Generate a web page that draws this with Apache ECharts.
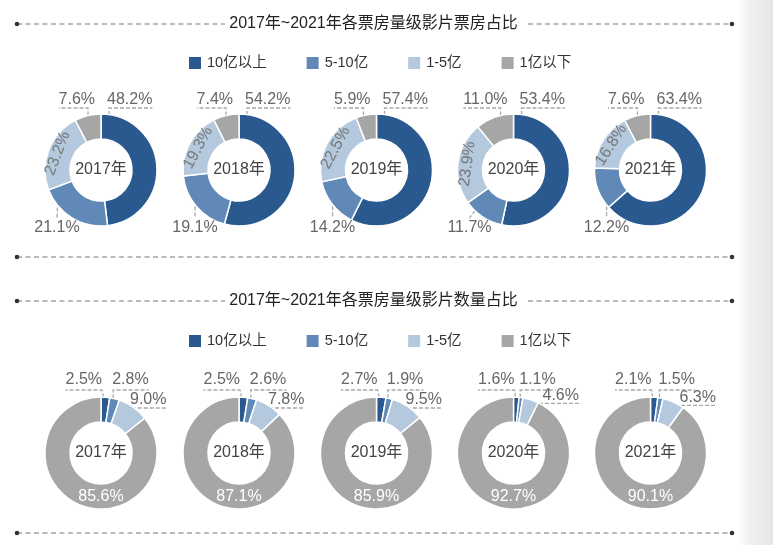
<!DOCTYPE html>
<html><head><meta charset="utf-8">
<script src="https://cdn.jsdelivr.net/npm/echarts@6/dist/echarts.min.js"></script>
<style>html,body{margin:0;padding:0;background:#fff}#c{width:773px;height:545px}</style>
</head><body><div id="c"></div>
<script>
// ---- data ----
const years = ['2017年', '2018年', '2019年', '2020年', '2021年'];
const categories = ['10亿以上', '5-10亿', '1-5亿', '1亿以下'];
const titles = ['2017年~2021年各票房量级影片票房占比', '2017年~2021年各票房量级影片数量占比'];
// 票房占比 (%)
const boxOver10 = [48.2, 54.2, 57.4, 53.4, 63.4];
const box5to10 = [21.1, 19.1, 14.2, 11.7, 12.2];
const box1to5 = [23.2, 19.3, 22.5, 23.9, 16.8];
const boxUnder1 = [7.6, 7.4, 5.9, 11.0, 7.6];
// 数量占比 (%)
const cntOver10 = [2.5, 2.5, 2.7, 1.6, 2.1];
const cnt5to10 = [2.8, 2.6, 1.9, 1.1, 1.5];
const cnt1to5 = [9.0, 7.8, 9.5, 4.6, 6.3];
const cntUnder1 = [85.6, 87.1, 85.9, 92.7, 90.1];

// ---- layout / style ----
const COLORS = ['#2a5990', '#6089b8', '#b5c9de', '#a6a6a6'];
const FONT = "'Liberation Sans', 'Noto Sans CJK SC', sans-serif";
const CX = [101, 239, 376.5, 513.5, 650.5];
const CY = [170, 453];
const TITLE_Y = [24, 301];
const R0 = 31, R1 = 56;
const D = Math.PI / 180;

const rows = [
  [boxOver10, box5to10, box1to5, boxUnder1],
  [cntOver10, cnt5to10, cnt1to5, cntUnder1]
];

function slice(vals, i) {
  const sum = vals.reduce((a, b) => a + b, 0);
  let acc = 0;
  for (let k = 0; k < i; k++) acc += vals[k];
  return [acc / sum * Math.PI * 2, (acc + vals[i]) / sum * Math.PI * 2];
}
function polar(cx, cy, r, a) { return [cx + r * Math.sin(a), cy - r * Math.cos(a)]; }

function makeLayout(row, y, vals) {
  const cx = CX[y], cy = CY[row];
  return function (p) {
    const rc = p.labelRect, w = rc.width, h = rc.height;
    const place = (left, midY) => ({ dx: left - rc.x, dy: midY - h / 2 - rc.y });
    const i = p.dataIndex;
    const ang = slice(vals, i);
    const am = (ang[0] + ang[1]) / 2;
    if (row === 0) {
      if (i === 0) {
        const lx = cx + 8, uy = cy - 62;
        const o = place(cx + 6, cy - 70);
        o.labelLinePoints = [[lx, cy - 43], [lx, uy], [cx + 6 + w, uy]];
        return o;
      }
      if (i === 3) {
        const lx = cx - 13, uy = cy - 62, left = cx - 6 - w;
        const o = place(left, cy - 70);
        o.labelLinePoints = [[lx, cy - Math.sqrt(R1 * R1 - 169)], [lx, uy], [left, uy]];
        return o;
      }
      if (i === 1) {
        const a = Math.min(241 * D, ang[1] - 10 * D);
        const p0 = polar(cx, cy, 50, a);
        const tx = cx - 44;
        const o = place(tx - w / 2, cy + 58);
        o.labelLinePoints = [p0, [tx, cy + 48]];
        return o;
      }
      return {};
    }
    const p0 = polar(cx, cy, 50, am);
    if (i === 0) {
      const uy = cy - 63, rx = cx + 1;
      const o = place(rx - w, cy - 73);
      o.labelLinePoints = [p0, [rx, uy], [rx - w, uy]];
      return o;
    }
    if (i === 1) {
      const uy = cy - 63, left = p0[0] - 1;
      const o = place(left, cy - 73);
      o.labelLinePoints = [p0, [p0[0], uy], [left + w, uy]];
      return o;
    }
    if (i === 2) {
      const uy = Math.min(cy - 45, p0[1] - 2), left = cx + 29;
      const o = place(left, uy - 8);
      o.labelLinePoints = [p0, [p0[0], uy], [left + w, uy]];
      return o;
    }
    return place(cx - w / 2, cy + 44);
  };
}

const series = [];
rows.forEach((cats, row) => {
  years.forEach((yr, y) => {
    const vals = cats.map(a => a[y]);
    series.push({
      type: 'pie',
      center: [CX[y], CY[row]],
      radius: [R0, R1],
      startAngle: 90,
      clockwise: true,
      avoidLabelOverlap: false,
      silent: true,
      animation: false,
      emphasis: { disabled: true },
      itemStyle: { borderColor: '#fff', borderWidth: 1.5 },
      label: {
        show: true, position: 'outside',
        formatter: p => p.value.toFixed(1) + '%',
        color: '#666', fontSize: 16, fontFamily: FONT
      },
      labelLine: { show: true, lineStyle: { color: '#a8a8a8', width: 1.3, type: [4, 2] } },
      labelLayout: makeLayout(row, y, vals),
      data: categories.map((name, i) => {
        const item = { name: name, value: vals[i] };
        if (row === 0 && i === 2) {
          item.label = { position: 'inside', rotate: 'tangential', color: '#777' };
          item.labelLine = { show: false };
        }
        if (row === 1 && i === 3) {
          item.label = { position: 'inside', color: '#fff' };
          item.labelLine = { show: false };
        }
        return item;
      })
    });
  });
});

const graphics = [];
graphics.push({
  type: 'rect', z: -10,
  shape: { x: 738, y: 0, width: 35, height: 545 },
  style: { fill: new echarts.graphic.LinearGradient(0, 0, 1, 0, [
    { offset: 0, color: '#ffffff' }, { offset: 0.35, color: '#f0f0f0' }, { offset: 1, color: '#e5e5e5' }]) }
});
function dashLine(x1, x2, y) {
  graphics.push({ type: 'line', shape: { x1: x1, y1: y, x2: x2, y2: y },
    style: { stroke: '#777', lineWidth: 1, lineDash: [5, 3.5] } });
}
function dot(x, y) {
  graphics.push({ type: 'circle', shape: { cx: x, cy: y, r: 2.3 }, style: { fill: '#333' } });
}
TITLE_Y.forEach((ty, k) => {
  dashLine(17, 225, ty); dashLine(528, 732, ty); dot(17, ty); dot(732, ty);
  graphics.push({ type: 'text', x: 373.5, y: ty,
    style: { text: titles[k], align: 'center', verticalAlign: 'middle', fontSize: 16, fontFamily: FONT, fill: '#222' } });
});
[257, 533].forEach(ly => { dashLine(17, 732, ly); dot(17, ly); dot(732, ly); });
CY.forEach(cy => {
  years.forEach((yr, y) => {
    graphics.push({ type: 'text', x: CX[y], y: cy,
      style: { text: yr, align: 'center', verticalAlign: 'middle', fontSize: 16, fontFamily: FONT, fill: '#444' } });
  });
});

const legendBase = {
  data: categories, left: 187, padding: 0, itemGap: 38, itemWidth: 14, itemHeight: 14,
  icon: 'rect', selectedMode: false,
  textStyle: { fontSize: 14.5, color: '#333', fontFamily: FONT }
};

const chart = echarts.init(document.getElementById('c'), null, { renderer: 'canvas' });
chart.setOption({
  backgroundColor: '#fff',
  animation: false,
  color: COLORS,
  legend: [Object.assign({ top: 55 }, legendBase), Object.assign({ top: 333 }, legendBase)],
  graphic: { elements: graphics },
  series: series
});
</script></body></html>
